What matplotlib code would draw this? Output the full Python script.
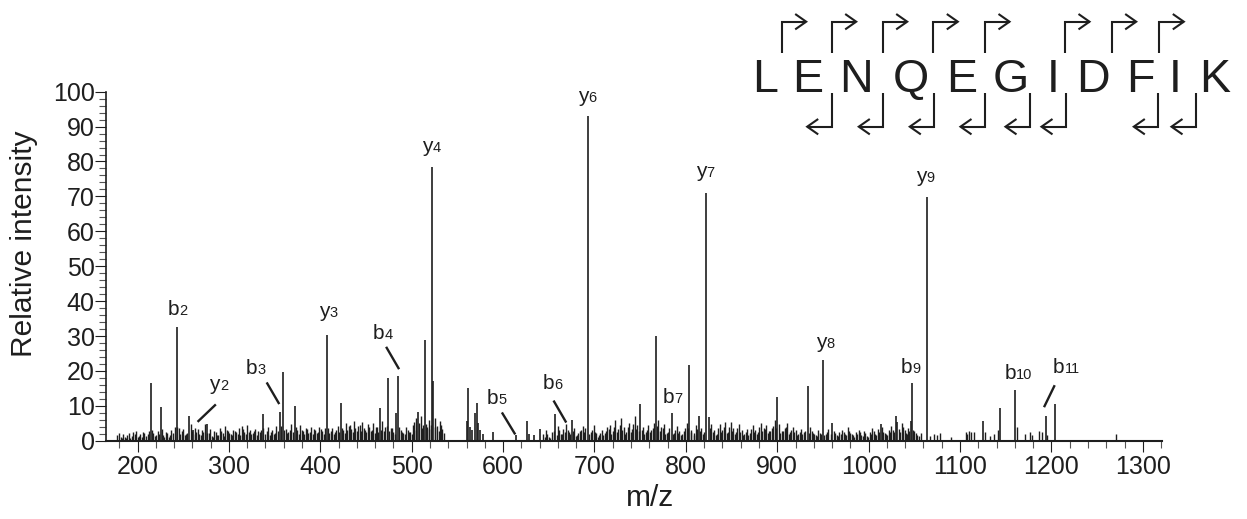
import matplotlib
matplotlib.use("Agg")
import matplotlib.pyplot as plt
from matplotlib.ticker import MultipleLocator
from matplotlib.lines import Line2D

plt.rcParams['font.family'] = ['Liberation Sans', 'DejaVu Sans']

INK = '#1e1e1e'
W, H = 1247, 519

# prominent fragment peaks (m/z, relative intensity)
peak_mz = [214.6, 225.5, 242.7, 256.5, 260.2, 276.2, 336.9, 355.9, 358.8, 372.3,
           407.3, 422.3, 465.4, 474.2, 482.6, 484.8, 507.4, 514.7, 522.3, 523.8,
           560.0, 561.4, 563.5, 566.0, 569.5, 571.3, 573.0, 575.0, 578.0, 588.8,
           614.3, 626.5, 628.0, 634.0, 639.9, 657.1, 675.4, 692.4, 750.2, 767.4,
           784.5, 803.8, 814.0, 822.1, 825.4, 899.9, 933.1, 950.3, 960.1, 1013.0,
           1029.5, 1031.3, 1045.9, 1047.8, 1064.2, 1125.0, 1143.3, 1160.6, 1193.8, 1204.4]
peak_int = [16.4, 9.7, 32.6, 7.0, 3.2, 4.7, 7.6, 8.2, 19.6, 10.0,
            30.3, 10.7, 9.4, 18.0, 7.8, 18.5, 8.3, 28.9, 78.3, 17.1,
            5.6, 15.0, 4.0, 3.0, 7.8, 10.9, 5.0, 3.2, 2.0, 2.6,
            1.6, 5.6, 2.0, 1.5, 3.3, 7.6, 5.9, 93.0, 10.4, 30.0,
            8.0, 21.7, 7.1, 70.9, 6.9, 12.4, 15.7, 23.1, 5.2, 4.7,
            7.1, 5.5, 5.6, 16.4, 69.7, 5.6, 9.5, 14.5, 7.2, 10.4]

# low-level background peaks
noise_mz = [178, 180, 183, 186, 189, 192, 195, 197, 200, 203, 206, 209, 211, 217, 219,
            222, 228, 231, 234, 237, 239, 241, 245, 247, 250, 253, 258, 263, 266, 269,
            272, 274, 278, 281, 284, 287, 290, 293, 296, 299, 302, 305, 308, 311, 314,
            317, 320, 323, 326, 329, 332, 335, 340, 343, 346, 349, 352, 362, 365, 368,
            375, 378, 381, 384, 387, 390, 393, 396, 399, 402, 405, 410, 413, 416, 419,
            425, 428, 431, 434, 437, 440, 443, 446, 449, 452, 455, 458, 461, 463, 468,
            471, 477, 480, 488, 491, 494, 497, 500, 503, 505, 510, 512, 517, 519, 526,
            528, 531, 533,
            644, 647, 650, 653, 660, 663, 666, 669, 672, 678, 681, 684, 687, 690, 696,
            699, 702, 705, 708, 711, 714, 717, 720, 723, 726, 729, 732, 735, 738, 741,
            744, 747, 753, 756, 759, 762, 765, 770, 773, 776, 779, 782, 787, 790, 793,
            796, 799, 801, 806, 809, 811, 817, 820, 828, 831, 834, 837, 840, 843, 846,
            849, 852, 855, 858, 861, 864, 867, 870, 873, 876, 879, 882, 885, 888, 891,
            894, 897, 902, 905, 908, 911, 914, 917, 920, 923, 926, 929, 936, 939, 942,
            945, 948, 953, 956, 962, 965, 968, 971, 974, 977, 980, 983, 986, 989, 992,
            995, 998, 1001, 1004, 1007, 1010, 1016, 1019, 1022, 1025, 1033, 1036, 1038, 1041, 1043,
            1050, 1053, 1057, 1067, 1071, 1075, 1078, 1090, 1106, 1108, 1110, 1112, 1115, 1127, 1133,
            1137, 1141.5, 1162, 1170.7, 1176.6, 1179, 1186.5, 1190.2, 1195, 1270.4]
noise_int = [1.5, 2.3, 0.8, 1.2, 1.6, 0.9, 2.4, 1.8, 1.1, 2.0, 2.6, 1.4, 1.9, 2.2, 1.3,
             2.8, 1.7, 2.5, 1.2, 3.0, 2.1, 4.0, 3.5, 2.0, 3.3, 1.8, 4.8, 2.0, 3.4, 1.6,
             2.5, 4.7, 2.2, 1.4, 2.9, 1.7, 3.6, 2.3, 4.2, 2.8, 1.9, 3.2, 2.4, 3.7, 4.2,
             2.6, 4.5, 3.0, 2.2, 3.4, 2.7, 3.1, 2.0, 3.8, 2.5, 1.9, 4.1, 3.4, 2.6, 4.8,
             3.1, 4.4, 2.7, 3.6, 2.2, 4.0, 3.3, 2.1, 3.9, 2.8, 3.5, 2.3, 3.7, 2.6, 4.3,
             3.0, 5.2, 4.1, 3.3, 5.6, 2.9, 4.6, 5.3, 3.2, 4.9, 2.7, 5.1, 3.8, 2.6, 5.7,
             4.0, 3.5, 2.4, 3.1, 2.2, 3.9, 2.5, 1.8, 5.5, 6.4, 7.2, 4.6, 3.9, 5.8, 6.5,
             4.2, 5.7, 3.4,
             1.8, 3.2, 1.2, 2.5, 4.1, 2.0, 3.4, 4.8, 2.6, 3.5, 1.7, 2.9, 4.2, 3.6, 2.4,
             4.6, 2.1, 1.5, 3.1, 2.3, 3.8, 4.5, 2.7, 5.8, 3.3, 6.5, 4.0, 2.6, 5.1, 3.4,
             7.2, 4.6, 3.9, 2.5, 4.4, 3.0, 5.2, 6.0, 3.8, 4.9, 2.3, 3.5, 2.2, 4.1, 2.8,
             1.9, 3.6, 5.0, 3.2, 2.1, 4.4, 3.5, 2.5, 4.7, 3.1, 2.0, 4.9, 3.2, 5.5, 2.6,
             5.3, 3.6, 2.4, 4.7, 3.0, 1.8, 3.3, 2.1, 4.5, 3.2, 2.4, 5.1, 3.7, 4.6, 2.7,
             3.5, 6.0, 4.8, 2.9, 3.6, 5.2, 2.5, 4.0, 3.1, 1.9, 3.4, 2.6, 3.8, 2.3, 1.5,
             3.0, 2.0, 1.8, 3.3, 2.7, 1.6, 2.4, 3.1, 1.9, 3.8, 2.2, 1.5, 2.6, 3.2, 1.7,
             2.9, 1.4, 2.5, 3.6, 2.0, 3.4, 2.6, 1.8, 3.1, 4.2, 3.3, 5.1, 4.0, 2.2, 3.5,
             2.8, 1.6, 2.1, 1.3, 2.0, 1.5, 2.2, 1.1, 2.5, 2.0, 2.7, 2.4, 2.6, 2.5, 1.3,
             1.8, 3.0, 4.0, 1.8, 2.6, 1.5, 2.9, 2.6, 1.5, 1.9]

# further background peaks between the ones above
fill_mz = [181.5, 184.5, 187.5, 190.5, 193.5, 198.5, 201.5, 204.5, 207.5, 212.5, 215.5, 220.5,
           223.5, 226.5, 229.5, 232.5, 235.5, 243.5, 248.5, 251.5, 254.5, 259.5, 262.5, 264.5,
           267.5, 270.5, 275.5, 279.5, 282.5, 285.5, 288.5, 291.5, 294.5, 297.5, 300.5, 303.5,
           306.5, 309.5, 312.5, 315.5, 318.5, 321.5, 324.5, 327.5, 330.5, 333.5, 337.5, 341.5,
           344.5, 347.5, 350.5, 353.5, 357.5, 360.5, 363.5, 366.5, 370.5, 373.5, 376.5, 379.5,
           382.5, 385.5, 388.5, 391.5, 394.5, 397.5, 400.5, 403.5, 408.5, 411.5, 414.5, 417.5,
           420.5, 423.5, 426.5, 429.5, 432.5, 435.5, 438.5, 441.5, 444.5, 447.5, 450.5, 453.5,
           456.5, 459.5, 462.5, 466.5, 469.5, 472.5, 475.5, 478.5, 481.5, 486.5, 489.5, 492.5,
           495.5, 498.5, 501.5, 504.5, 508.5, 511.5, 515.5, 518.5, 521.5, 525.5, 529.5, 532.5, 535.0,
           645.5, 648.5, 651.5, 655.5, 658.5, 661.5, 664.5, 667.5, 670.5, 673.5, 676.5, 679.5,
           682.5, 685.5, 688.5, 694.5, 697.5, 700.5, 703.5, 706.5, 709.5, 712.5, 715.5, 718.5,
           721.5, 724.5, 727.5, 730.5, 733.5, 736.5, 739.5, 742.5, 745.5, 748.5, 751.5, 754.5,
           757.5, 760.5, 763.5, 768.5, 771.5, 774.5, 777.5, 780.5, 785.5, 788.5, 791.5, 794.5,
           797.5, 802.5, 805.5, 808.5, 812.5, 815.5, 818.5, 826.5, 829.5, 832.5, 835.5, 838.5,
           841.5, 844.5, 847.5, 850.5, 853.5, 856.5, 859.5, 862.5, 865.5, 868.5, 871.5, 874.5,
           877.5, 880.5, 883.5, 886.5, 889.5, 892.5, 895.5, 898.5, 903.5, 906.5, 909.5, 912.5,
           915.5, 918.5, 921.5, 924.5, 927.5, 930.5, 934.5, 937.5, 940.5, 943.5, 946.5, 951.5,
           954.5, 958.5, 963.5, 966.5, 969.5, 972.5, 975.5, 978.5, 981.5, 984.5, 987.5, 990.5,
           993.5, 996.5, 999.5, 1002.5, 1005.5, 1008.5, 1011.5, 1014.5, 1017.5, 1020.5, 1023.5,
           1026.5, 1028.0, 1034.5, 1039.5, 1042.0, 1044.5, 1048.5, 1051.5, 1055.0]
fill_int = [1.0, 1.9, 0.7, 2.1, 1.3, 2.9, 1.4, 1.0, 2.2, 2.7, 3.1, 1.6,
            2.0, 3.4, 1.1, 2.2, 1.5, 3.8, 2.7, 1.5, 2.3, 2.9, 3.6, 2.4,
            1.8, 3.0, 2.1, 3.3, 1.2, 2.4, 1.6, 2.9, 1.4, 3.0, 2.2, 1.5,
            2.8, 2.0, 1.7, 3.3, 1.9, 2.6, 1.8, 2.9, 1.6, 2.4, 3.5, 2.8,
            1.7, 3.1, 2.2, 2.9, 4.2, 3.0, 2.2, 3.1, 2.6, 3.9, 2.0, 3.2,
            1.9, 3.4, 2.5, 1.8, 3.0, 2.4, 3.3, 1.9, 3.6, 2.7, 1.8, 3.2,
            2.4, 3.5, 2.2, 3.1, 4.4, 2.5, 3.6, 4.1, 2.8, 3.7, 2.4, 3.9,
            3.0, 2.2, 4.0, 3.2, 2.7, 4.3, 2.9, 3.6, 2.0, 3.8, 2.6, 1.9,
            3.2, 2.5, 4.4, 3.0, 5.1, 3.6, 4.9, 3.3, 4.5, 3.8, 2.9, 4.6, 2.1,
            1.2, 2.0, 0.9, 2.8, 1.6, 3.0, 1.8, 2.5, 3.2, 1.9, 2.7, 1.3,
            2.2, 3.0, 2.4, 1.8, 3.1, 2.5, 1.2, 2.2, 1.7, 2.9, 3.4, 2.0,
            3.9, 2.6, 4.4, 3.0, 2.0, 3.8, 2.6, 4.7, 3.4, 2.8, 3.0, 2.0,
            3.2, 2.4, 3.7, 4.1, 2.9, 3.5, 1.8, 2.6, 1.9, 3.1, 2.2, 1.5,
            2.7, 3.6, 2.5, 1.6, 3.3, 2.8, 1.9, 3.5, 2.4, 1.6, 3.6, 2.5,
            4.0, 2.1, 3.9, 2.8, 1.9, 3.5, 2.4, 1.5, 2.5, 1.7, 3.3, 2.5,
            1.9, 3.8, 2.9, 3.4, 2.1, 2.7, 4.3, 3.5, 2.3, 2.8, 3.9, 2.0,
            3.0, 2.4, 1.6, 2.6, 2.0, 2.9, 2.2, 2.9, 1.8, 1.3, 2.3, 1.6,
            2.5, 1.9, 2.1, 1.3, 1.9, 2.4, 1.6, 2.9, 1.8, 1.2, 2.0, 2.5,
            1.4, 2.2, 1.2, 2.0, 2.7, 1.6, 2.6, 3.8, 2.1, 1.5, 2.4,
            3.2, 2.6, 2.6, 3.1, 1.8, 2.7, 3.0, 2.2, 1.3]

# ion labels: ion type, number, label centre (m/z), label baseline (intensity)
ion_labels = [('b', '2', 243.6, 36.0), ('y', '2', 288.8, 14.5), ('b', '3', 329.4, 19.0),
              ('y', '3', 409.3, 35.5), ('b', '4', 468.1, 29.1), ('y', '4', 522.0, 82.8),
              ('b', '5', 593.2, 10.4), ('b', '6', 654.3, 14.8), ('y', '6', 691.8, 97.1),
              ('b', '7', 785.8, 10.7), ('y', '7', 821.4, 75.6), ('y', '8', 952.5, 26.5),
              ('b', '9', 1045.9, 19.3), ('y', '9', 1061.8, 74.2), ('b', '10', 1163.9, 17.7),
              ('b', '11', 1216.8, 19.3)]
# leader lines from label to peak
leaders = [(285.7, 10.4, 265.7, 5.4), (341.3, 16.7, 355.1, 10.5), (472.0, 26.9, 486.2, 20.5),
           (598.7, 8.1, 613.3, 1.8), (655.2, 11.5, 669.1, 5.2), (1203.6, 15.9, 1191.9, 9.6)]

sequence = 'LENQEGIDFIK'
letter_x = [765, 808, 856, 911, 962, 1011, 1053, 1093, 1140, 1175, 1215]
b_arrow_x = [781.7, 831.7, 882.7, 933.3, 985, 1065, 1111.7, 1159.3]
y_arrow_x = [831.7, 883.3, 934.3, 985, 1030, 1066, 1158.3, 1196]

fig = plt.figure(figsize=(W / 100, H / 100), dpi=100)
ax = fig.add_axes([106 / W, 78.3 / H, 1056 / W, 349 / H])

ax.vlines(noise_mz, 0, noise_int, color=INK, lw=1.0)
ax.vlines(fill_mz, 0, fill_int, color=INK, lw=1.0)
ax.vlines(peak_mz, 0, peak_int, color=INK, lw=1.2)

ax.set_xlim(165.5, 1321)
ax.set_ylim(0, 100)
ax.xaxis.set_major_locator(MultipleLocator(100))
ax.xaxis.set_minor_locator(MultipleLocator(20))
ax.yaxis.set_major_locator(MultipleLocator(10))
ax.yaxis.set_minor_locator(MultipleLocator(2))
ax.tick_params(which='major', length=7.7, width=0.8, color=INK, labelsize=18, labelcolor=INK)
ax.tick_params(which='minor', length=5.2, width=0.8, color='#555555')
ax.tick_params(axis='y', which='major', pad=0.5)
ax.tick_params(axis='x', which='major', pad=2.5)
for s in ['top', 'right']:
    ax.spines[s].set_visible(False)
ax.spines['bottom'].set_linewidth(1.5)
ax.spines['left'].set_linewidth(1.2)
ax.spines['bottom'].set_color(INK)
ax.spines['left'].set_color(INK)

# ion labels, digit smaller on the same baseline
big, small = 15, 10.5
for ion, num, x, y in ion_labels:
    wl = (0.556 if ion == 'b' else 0.5) * big
    wd = 0.556 * small * len(num)
    dx = (wl - wd) / 2
    ax.annotate(ion, (x, y), xytext=(dx, 0), textcoords='offset points',
                ha='right', va='baseline', fontsize=big, color=INK)
    ax.annotate(num, (x, y), xytext=(dx, 0), textcoords='offset points',
                ha='left', va='baseline', fontsize=small, color=INK)
for x0, y0, x1, y1 in leaders:
    ax.plot([x0, x1], [y0, y1], color=INK, lw=1.7, solid_capstyle='butt')

fig.text(24 / W, 1 - 243.5 / H, 'Relative intensity', rotation=90, ha='center', va='center',
         fontsize=21.5, color=INK)
fig.text(650 / W, 1 - 498 / H, 'm/z', ha='center', va='center', fontsize=21.5, color=INK)


def px(x, y):
    return x / W, 1 - y / H


def seg(xs, ys):
    fx = [x / W for x in xs]
    fy = [1 - y / H for y in ys]
    fig.add_artist(Line2D(fx, fy, transform=fig.transFigure, color=INK, lw=1.5,
                          solid_joinstyle='miter', solid_capstyle='butt'))


for ch, x in zip(sequence, letter_x):
    fx, fy = px(x, 91.7)
    fig.text(fx, fy, ch, ha='center', va='baseline', fontsize=33.5, color=INK)

for x in b_arrow_x:
    tip = x + 24.5
    seg([x, x, tip], [53.3, 21.7, 21.7])
    seg([tip - 11, tip, tip - 11], [14, 21.7, 29.4])

for x in y_arrow_x:
    tip = x - 24.5
    seg([x, x, tip], [93.3, 126.7, 126.7])
    seg([tip + 11, tip, tip + 11], [119, 126.7, 134.4])

fig.savefig('out.png', dpi=100)
